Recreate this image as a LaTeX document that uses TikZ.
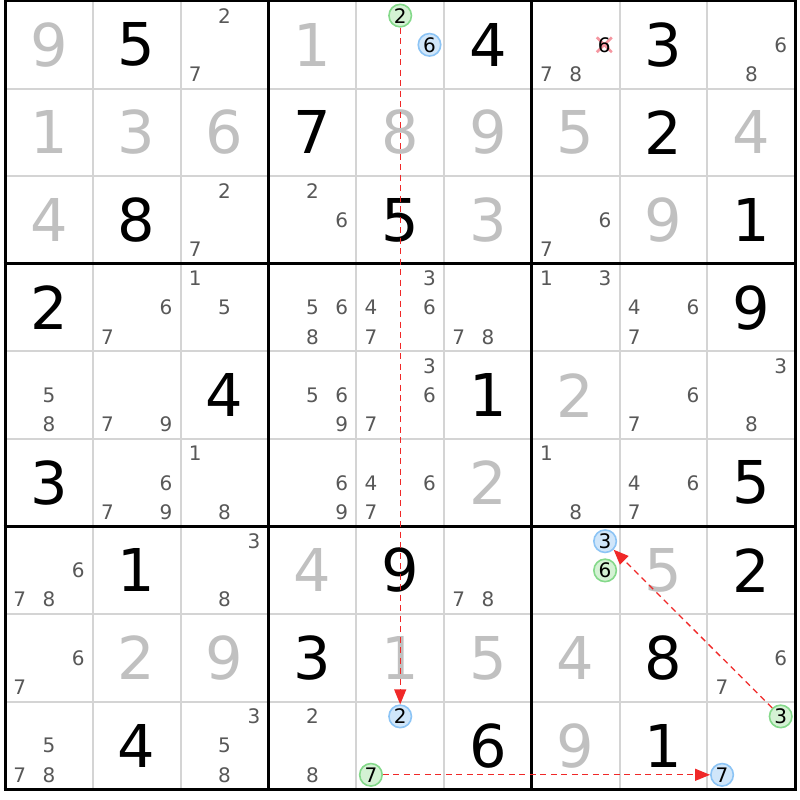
\documentclass[tikz,border=0pt]{standalone}
\usepackage{fontspec}
\usetikzlibrary{arrows.meta}
\newfontfamily\digf{DejaVu Sans}
\definecolor{thin}{RGB}{212,212,212}
\definecolor{solvedc}{RGB}{192,192,192}
\definecolor{candc}{RGB}{88,88,88}
\definecolor{bfill}{RGB}{208,230,250}
\definecolor{bdraw}{RGB}{140,196,245}
\definecolor{gfill}{RGB}{212,242,212}
\definecolor{gdraw}{RGB}{132,217,138}
\definecolor{linkc}{RGB}{240,40,40}
\definecolor{crossc}{RGB}{245,150,160}
\tikzset{
  given/.style={inner sep=0pt, font=\digf\fontsize{59}{59}\selectfont, text=black},
  solved/.style={inner sep=0pt, font=\digf\fontsize{59}{59}\selectfont, text=solvedc},
  cand/.style={inner sep=0pt, font=\digf\fontsize{20}{20}\selectfont, text=candc},
  hblue/.style={circle, minimum size=22.5pt, inner sep=0pt, line width=1.6pt, draw=bdraw, fill=bfill, font=\digf\fontsize{20}{20}\selectfont, text=black},
  hgreen/.style={circle, minimum size=22.5pt, inner sep=0pt, line width=1.6pt, draw=gdraw, fill=gfill, font=\digf\fontsize{20}{20}\selectfont, text=black},
  link/.style={draw=linkc, line width=1.3pt, dash pattern=on 6pt off 4.5pt, -{Triangle[width=12pt,length=15pt]}},
  thinline/.style={draw=thin, line width=2pt},
  thickline/.style={draw=black, line width=3pt},
  crossline/.style={draw=crossc, line width=2.6pt}
}
\begin{document}
\begin{tikzpicture}[x=1pt,y=-1pt]
\useasboundingbox (0,0) rectangle (800,800);
\fill[white] (0,0) rectangle (800,800);
% thin grid
\foreach \i in {1,2,4,5,7,8} {
  \draw[thinline] ({5+87.8*\i},1) -- ({5+87.8*\i},789.4);
  \draw[thinline] (5,{1+87.6*\i}) -- (795.2,{1+87.6*\i});
}
% thick grid
\foreach \i in {0,3,6,9} {
  \draw[thickline] ({5+87.8*\i},-0.5) -- ({5+87.8*\i},790.9);
  \draw[thickline] (3.5,{1+87.6*\i}) -- (796.7,{1+87.6*\i});
}
% givens
\foreach \r/\c/\d in {1/2/5,1/6/4,1/8/3,2/4/7,2/8/2,3/2/8,3/5/5,3/9/1,4/1/2,4/9/9,5/3/4,5/6/1,6/1/3,6/9/5,7/2/1,7/5/9,7/9/2,8/4/3,8/8/8,9/2/4,9/6/6,9/8/1} {
  \node[given] (g\r\c) at ({5+87.8*(\c-0.5)},{1+87.6*(\r-0.5)}) {\d};
}
% solved
\foreach \r/\c/\d in {1/1/9,1/4/1,2/1/1,2/2/3,2/3/6,2/5/8,2/6/9,2/7/5,2/9/4,3/1/4,3/6/3,3/8/9,5/7/2,6/6/2,7/4/4,7/8/5,8/2/2,8/3/9,8/5/1,8/6/5,8/7/4,9/7/9} {
  \node[solved] (s\r\c) at ({5+87.8*(\c-0.5)},{1+87.6*(\r-0.5)}) {\d};
}
% eliminated candidate cross
\coordinate (x1) at (596.8,37.4);
\coordinate (x2) at (611.8,52.2);
\coordinate (x3) at (596.8,52.2);
\coordinate (x4) at (611.8,37.4);
\draw[crossline] (x1) -- (x2);
\draw[crossline] (x3) -- (x4);
\node[cand, text=black] (c176) at (604.3,44.8) {6};
% candidates
\foreach \r/\c/\d in {1/3/2,1/3/7,1/7/7,1/7/8,1/9/6,1/9/8,
3/3/2,3/3/7,3/4/2,3/4/6,3/7/6,3/7/7,
4/2/6,4/2/7,4/3/1,4/3/5,4/4/5,4/4/6,4/4/8,4/5/3,4/5/4,4/5/6,4/5/7,4/6/7,4/6/8,4/7/1,4/7/3,4/8/4,4/8/6,4/8/7,
5/1/5,5/1/8,5/2/7,5/2/9,5/4/5,5/4/6,5/4/9,5/5/3,5/5/6,5/5/7,5/8/6,5/8/7,5/9/3,5/9/8,
6/2/6,6/2/7,6/2/9,6/3/1,6/3/8,6/4/6,6/4/9,6/5/4,6/5/6,6/5/7,6/7/1,6/7/8,6/8/4,6/8/6,6/8/7,
7/1/6,7/1/7,7/1/8,7/3/3,7/3/8,7/6/7,7/6/8,
8/1/6,8/1/7,8/9/6,8/9/7,
9/1/5,9/1/7,9/1/8,9/3/3,9/3/5,9/3/8,9/4/2,9/4/8} {
  \pgfmathsetmacro\cx{5+87.8*(\c-1)+14.7+29.3*mod(\d-1,3)}
  \pgfmathsetmacro\cy{1+87.6*(\r-1)+14.6+29.2*floor((\d-1)/3)}
  \node[cand] (c\r\c\d) at (\cx,\cy) {\d};
}
% highlighted candidates
\node[hgreen] (h152) at (400.2,15.6) {2};
\node[hblue]  (h156) at (429.5,44.8) {6};
\node[hblue]  (h773) at (605.1,541.2) {3};
\node[hgreen] (h776) at (605.1,570.4) {6};
\node[hblue]  (h952) at (400.2,716.4) {2};
\node[hgreen] (h957) at (370.9,774.8) {7};
\node[hgreen] (h993) at (780.7,716.4) {3};
\node[hblue]  (h997) at (722.1,774.8) {7};
% links
\draw[link] (h152) -- (h952);
\draw[link] (h957) -- (h997);
\draw[link] (h993) -- (h773);
\end{tikzpicture}
\end{document}
